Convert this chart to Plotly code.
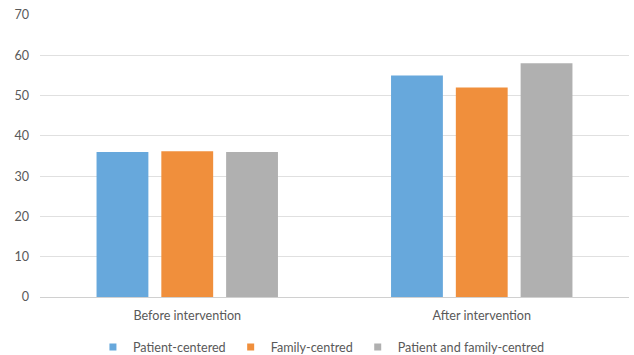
import plotly.graph_objects as go

categories = ["Before intervention", "After intervention"]
patient_centered = [36, 55]
family_centred = [36.2, 52]
patient_family_centred = [36, 58]
series_names = ["Patient-centered", "Family-centred", "Patient and family-centred"]
colors = ["#67a8dc", "#f08f3c", "#b0b0b0"]

fig = go.Figure()
for name, vals, c in zip(series_names, [patient_centered, family_centred, patient_family_centred], colors):
    fig.add_trace(go.Bar(x=categories, y=vals, name=name, legendgroup=name, showlegend=False,
                         marker=dict(color=c, line=dict(width=0))))
# legend entries with small square keys
for name, c in zip(series_names, colors):
    fig.add_trace(go.Scatter(x=[None], y=[None], mode="markers", name=name, legendgroup=name,
                             marker=dict(symbol="square", size=7, color=c)))

font = "Lato, 'Open Sans', sans-serif"
fig.update_layout(
    width=634, height=355,
    margin=dict(l=40, r=5, t=15, b=58),
    paper_bgcolor="white", plot_bgcolor="white",
    barmode="group", bargap=0.34, bargroupgap=0.2,
    font=dict(family=font, size=12.6, color="#595959"),
    showlegend=True,
    legend=dict(orientation="h", xref="container", x=0.507, xanchor="center",
                yref="container", y=0.022, yanchor="middle",
                font=dict(size=12.6, color="#595959"), itemwidth=30, tracegroupgap=0),
    xaxis=dict(showline=False, ticks="", tickfont=dict(size=12.6, color="#595959"),
               ticklabelstandoff=9),
    yaxis=dict(range=[0, 70], dtick=10, showgrid=True, gridcolor="#e0e0e0", gridwidth=1,
               zeroline=True, zerolinecolor="#d0d0d0", zerolinewidth=1,
               tickfont=dict(size=12.6, color="#595959"), ticks="", ticklabelstandoff=10),
)
fig.write_html("out.html")
